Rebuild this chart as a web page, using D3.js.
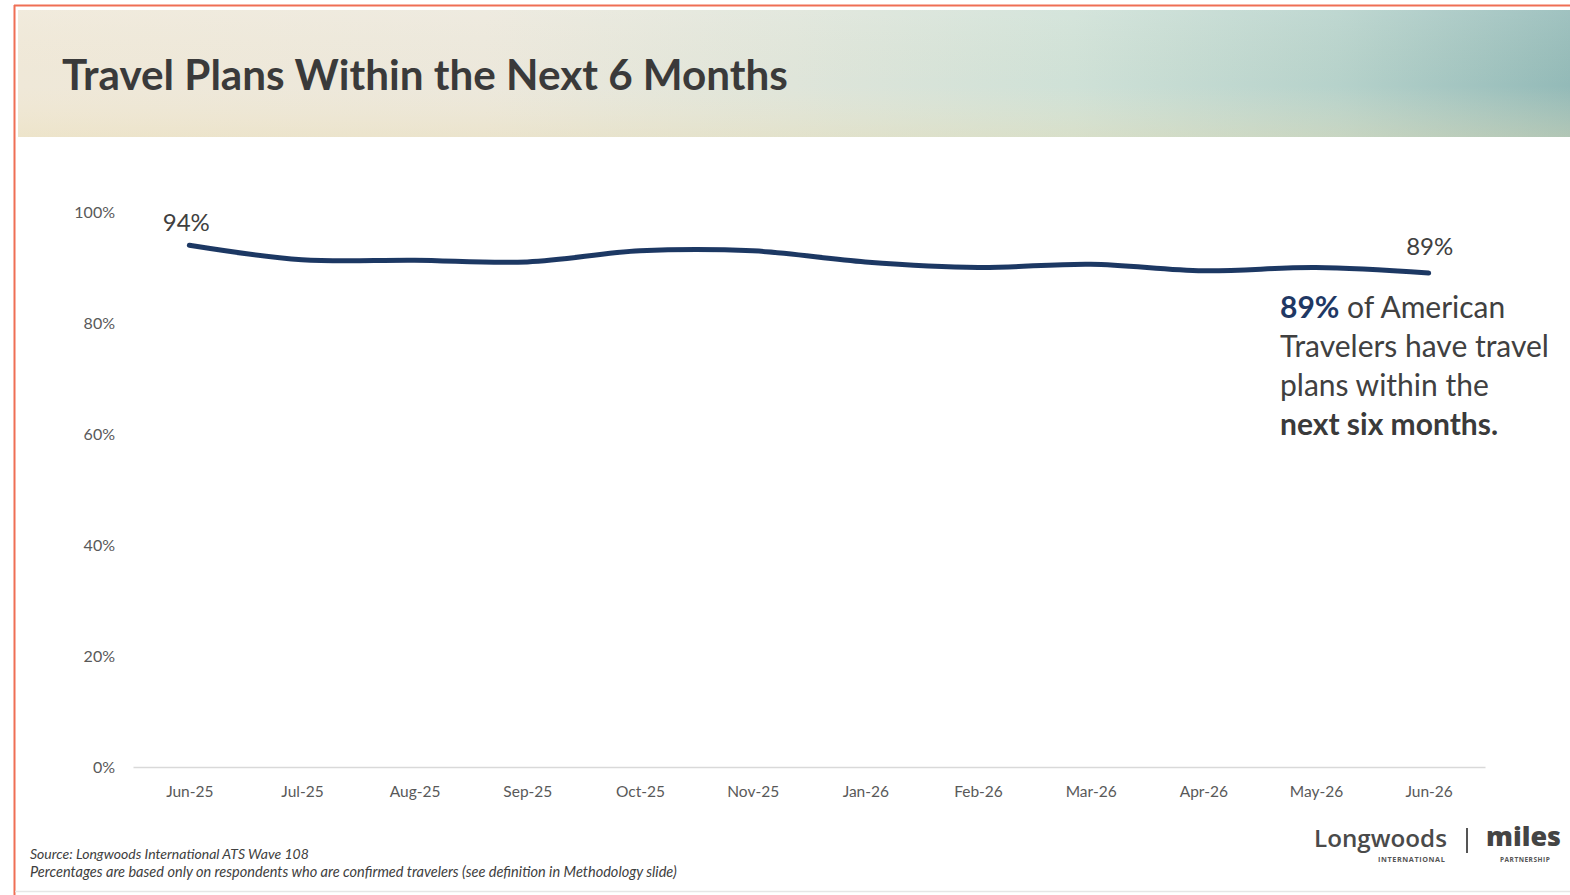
<!DOCTYPE html>
<html>
<head>
<meta charset="utf-8">
<script src="https://cdn.jsdelivr.net/npm/d3@7"></script>
<style>
  html, body { margin: 0; padding: 0; background: #ffffff; }
  svg { display: block; }
</style>
</head>
<body>
<svg id="chart" width="1570" height="895"></svg>
<script>
// Survey months shown on the horizontal axis
const months = ["Jun-25", "Jul-25", "Aug-25", "Sep-25", "Oct-25", "Nov-25",
                "Jan-26", "Feb-26", "Mar-26", "Apr-26", "May-26", "Jun-26"];
// Share of travelers with trip plans in the next six months (%)
const planShare = [94, 91.4, 91.3, 91, 93, 93, 91, 90, 90.6, 89.4, 90, 89];
// Vertical axis ticks (%)
const yTicks = [0, 20, 40, 60, 80, 100];
// Points that carry a value label
const labelledIdx = [0, 11];

const W = 1570, H = 895;
const svg = d3.select("#chart");
const FONT = "Lato, 'Open Sans', 'Noto Sans', sans-serif";
const NAVY = "#1f3864";
const TEXT = "#404040";

// scale a text's font size so that it spans the given width
function fitWidth(sel, w) {
  const cur = sel.node().getComputedTextLength();
  const fs = parseFloat(sel.attr("font-size"));
  sel.attr("font-size", (fs * w / cur).toFixed(2));
  return sel;
}

// ---------- header band ----------
const defs = svg.append("defs");
const hg = defs.append("linearGradient").attr("id", "hdr").attr("x1", 0).attr("x2", 1).attr("y1", 0).attr("y2", 0);
[[0, "#efe8d8"], [0.3, "#ece8dc"], [0.5, "#dfe5da"], [0.68, "#cfe1d7"], [0.85, "#b6d2cb"], [1, "#93bab8"]]
  .forEach(([o, c]) => hg.append("stop").attr("offset", o).attr("stop-color", c));
const hv = defs.append("linearGradient").attr("id", "hdrv").attr("x1", 0).attr("x2", 0).attr("y1", 0).attr("y2", 1);
[[0, "#ffffff", 0.12], [0.6, "#f3e6c4", 0.0], [1, "#e9dcb0", 0.35]]
  .forEach(([o, c, a]) => hv.append("stop").attr("offset", o).attr("stop-color", c).attr("stop-opacity", a));
defs.append("filter").attr("id", "soft").append("feGaussianBlur").attr("stdDeviation", 0.4);

svg.append("rect").attr("x", 18).attr("y", 10).attr("width", W - 18).attr("height", 127).attr("fill", "url(#hdr)");
svg.append("rect").attr("x", 18).attr("y", 10).attr("width", W - 18).attr("height", 127).attr("fill", "url(#hdrv)");

// slide frame
svg.append("line").attr("x1", 14.5).attr("x2", 14.5).attr("y1", 5).attr("y2", H).attr("stroke", "#ef6f55").attr("stroke-width", 2);
svg.append("line").attr("x1", 14).attr("x2", W).attr("y1", 5.5).attr("y2", 5.5).attr("stroke", "#ef6f55").attr("stroke-width", 2);
svg.append("line").attr("x1", 15).attr("x2", W).attr("y1", 891.5).attr("y2", 891.5).attr("stroke", "#e6e6e6").attr("stroke-width", 1.5);

const title = svg.append("text").attr("x", 62).attr("y", 90)
  .attr("font-family", FONT).attr("font-weight", 700).attr("font-size", 40)
  .attr("fill", "#3a3a3a").text("Travel Plans Within the Next 6 Months");
fitWidth(title, 726);

// ---------- scales ----------
const x = d3.scalePoint().domain(months).range([133, 1485]).padding(0.5);
const y = d3.scaleLinear().domain([0, 100]).range([767, 212]);

// y axis (labels only)
const yAxis = svg.append("g").attr("transform", "translate(133,0)")
  .call(d3.axisLeft(y).tickValues(yTicks).tickSize(0).tickPadding(18).tickFormat(d => d + "%"));
yAxis.select(".domain").remove();
yAxis.selectAll("text").attr("font-family", FONT).attr("font-size", 16).attr("fill", "#595959");

// x axis with baseline
const xAxis = svg.append("g").attr("transform", "translate(0,767)")
  .call(d3.axisBottom(x).tickSize(0).tickSizeOuter(0).tickPadding(19));
xAxis.select(".domain").attr("stroke", "#d9d9d9").attr("stroke-width", 1.5);
xAxis.selectAll("text").attr("font-family", FONT).attr("font-size", 15.5).attr("fill", "#595959");

// ---------- line ----------
const line = d3.line()
  .x((d, i) => x(months[i]))
  .y(d => y(d))
  .curve(d3.curveCatmullRom.alpha(0.5));

svg.append("path").datum(planShare)
  .attr("d", line)
  .attr("fill", "none")
  .attr("stroke", NAVY)
  .attr("stroke-width", 5)
  .attr("stroke-linecap", "round")
  .attr("filter", "url(#soft)");

// value labels at the first and last point
svg.selectAll(".vlabel").data(labelledIdx).join("text")
  .attr("class", "vlabel")
  .attr("x", i => x(months[i]) - (i === 0 ? 3 : -1))
  .attr("y", i => y(planShare[i]) - (i === 0 ? 14 : 18))
  .attr("text-anchor", "middle")
  .attr("font-family", FONT).attr("font-size", 24).attr("fill", TEXT)
  .text(i => planShare[i] + "%");

// ---------- call-out ----------
const callout = [
  [{ t: planShare[11] + "%", b: true, c: NAVY }, { t: " of American", b: false, c: TEXT }],
  [{ t: "Travelers have travel", b: false, c: TEXT }],
  [{ t: "plans within the", b: false, c: TEXT }],
  [{ t: "next six months.", b: true, c: "#3a3a3a" }]
];
const cg = svg.append("g");
const rows = callout.map((parts, r) => {
  const tx = cg.append("text").attr("x", 1280).attr("y", 318 + r * 39)
    .attr("font-family", FONT).attr("font-size", 28);
  parts.forEach(p => tx.append("tspan").attr("font-weight", p.b ? 700 : 400).attr("fill", p.c).text(p.t));
  return tx;
});
fitWidth(rows[1], 269);
const fsCallout = rows[1].attr("font-size");
rows.forEach(r => r.attr("font-size", fsCallout));

// ---------- footer ----------
const f1 = svg.append("text").attr("x", 30).attr("y", 859)
  .attr("font-family", FONT).attr("font-style", "italic").attr("font-size", 12).attr("fill", TEXT)
  .text("Source: Longwoods International ATS Wave 108");
fitWidth(f1, 279);
const f2 = svg.append("text").attr("x", 30).attr("y", 877)
  .attr("font-family", FONT).attr("font-style", "italic").attr("font-size", 12).attr("fill", TEXT)
  .text("Percentages are based only on respondents who are confirmed travelers (see definition in Methodology slide)");
fitWidth(f2, 647);

// ---------- logos ----------
const lw = svg.append("text").attr("x", 1314).attr("y", 847)
  .attr("font-family", "'Open Sans', 'Noto Sans', sans-serif").attr("font-weight", 600).attr("font-size", 26)
  .attr("fill", "#4a4a4a").text("Longwoods");
fitWidth(lw, 133);
const li = svg.append("text").attr("x", 1378).attr("y", 862)
  .attr("font-family", "'Open Sans', sans-serif").attr("font-weight", 700).attr("font-size", 6)
  .attr("letter-spacing", 0.6).attr("fill", "#555").text("INTERNATIONAL");
fitWidth(li, 69);
svg.append("line").attr("x1", 1467).attr("x2", 1467).attr("y1", 828).attr("y2", 853)
  .attr("stroke", "#555").attr("stroke-width", 2);
const ml = svg.append("text").attr("x", 1486).attr("y", 846)
  .attr("font-family", "'Open Sans', sans-serif").attr("font-weight", 800).attr("font-size", 32)
  .attr("fill", "#444").text("miles");
fitWidth(ml, 75);
const mp = svg.append("text").attr("x", 1500).attr("y", 862)
  .attr("font-family", "'Open Sans', sans-serif").attr("font-weight", 700).attr("font-size", 5)
  .attr("letter-spacing", 0.5).attr("fill", "#555").text("PARTNERSHIP");
fitWidth(mp, 52);
</script>
</body>
</html>
